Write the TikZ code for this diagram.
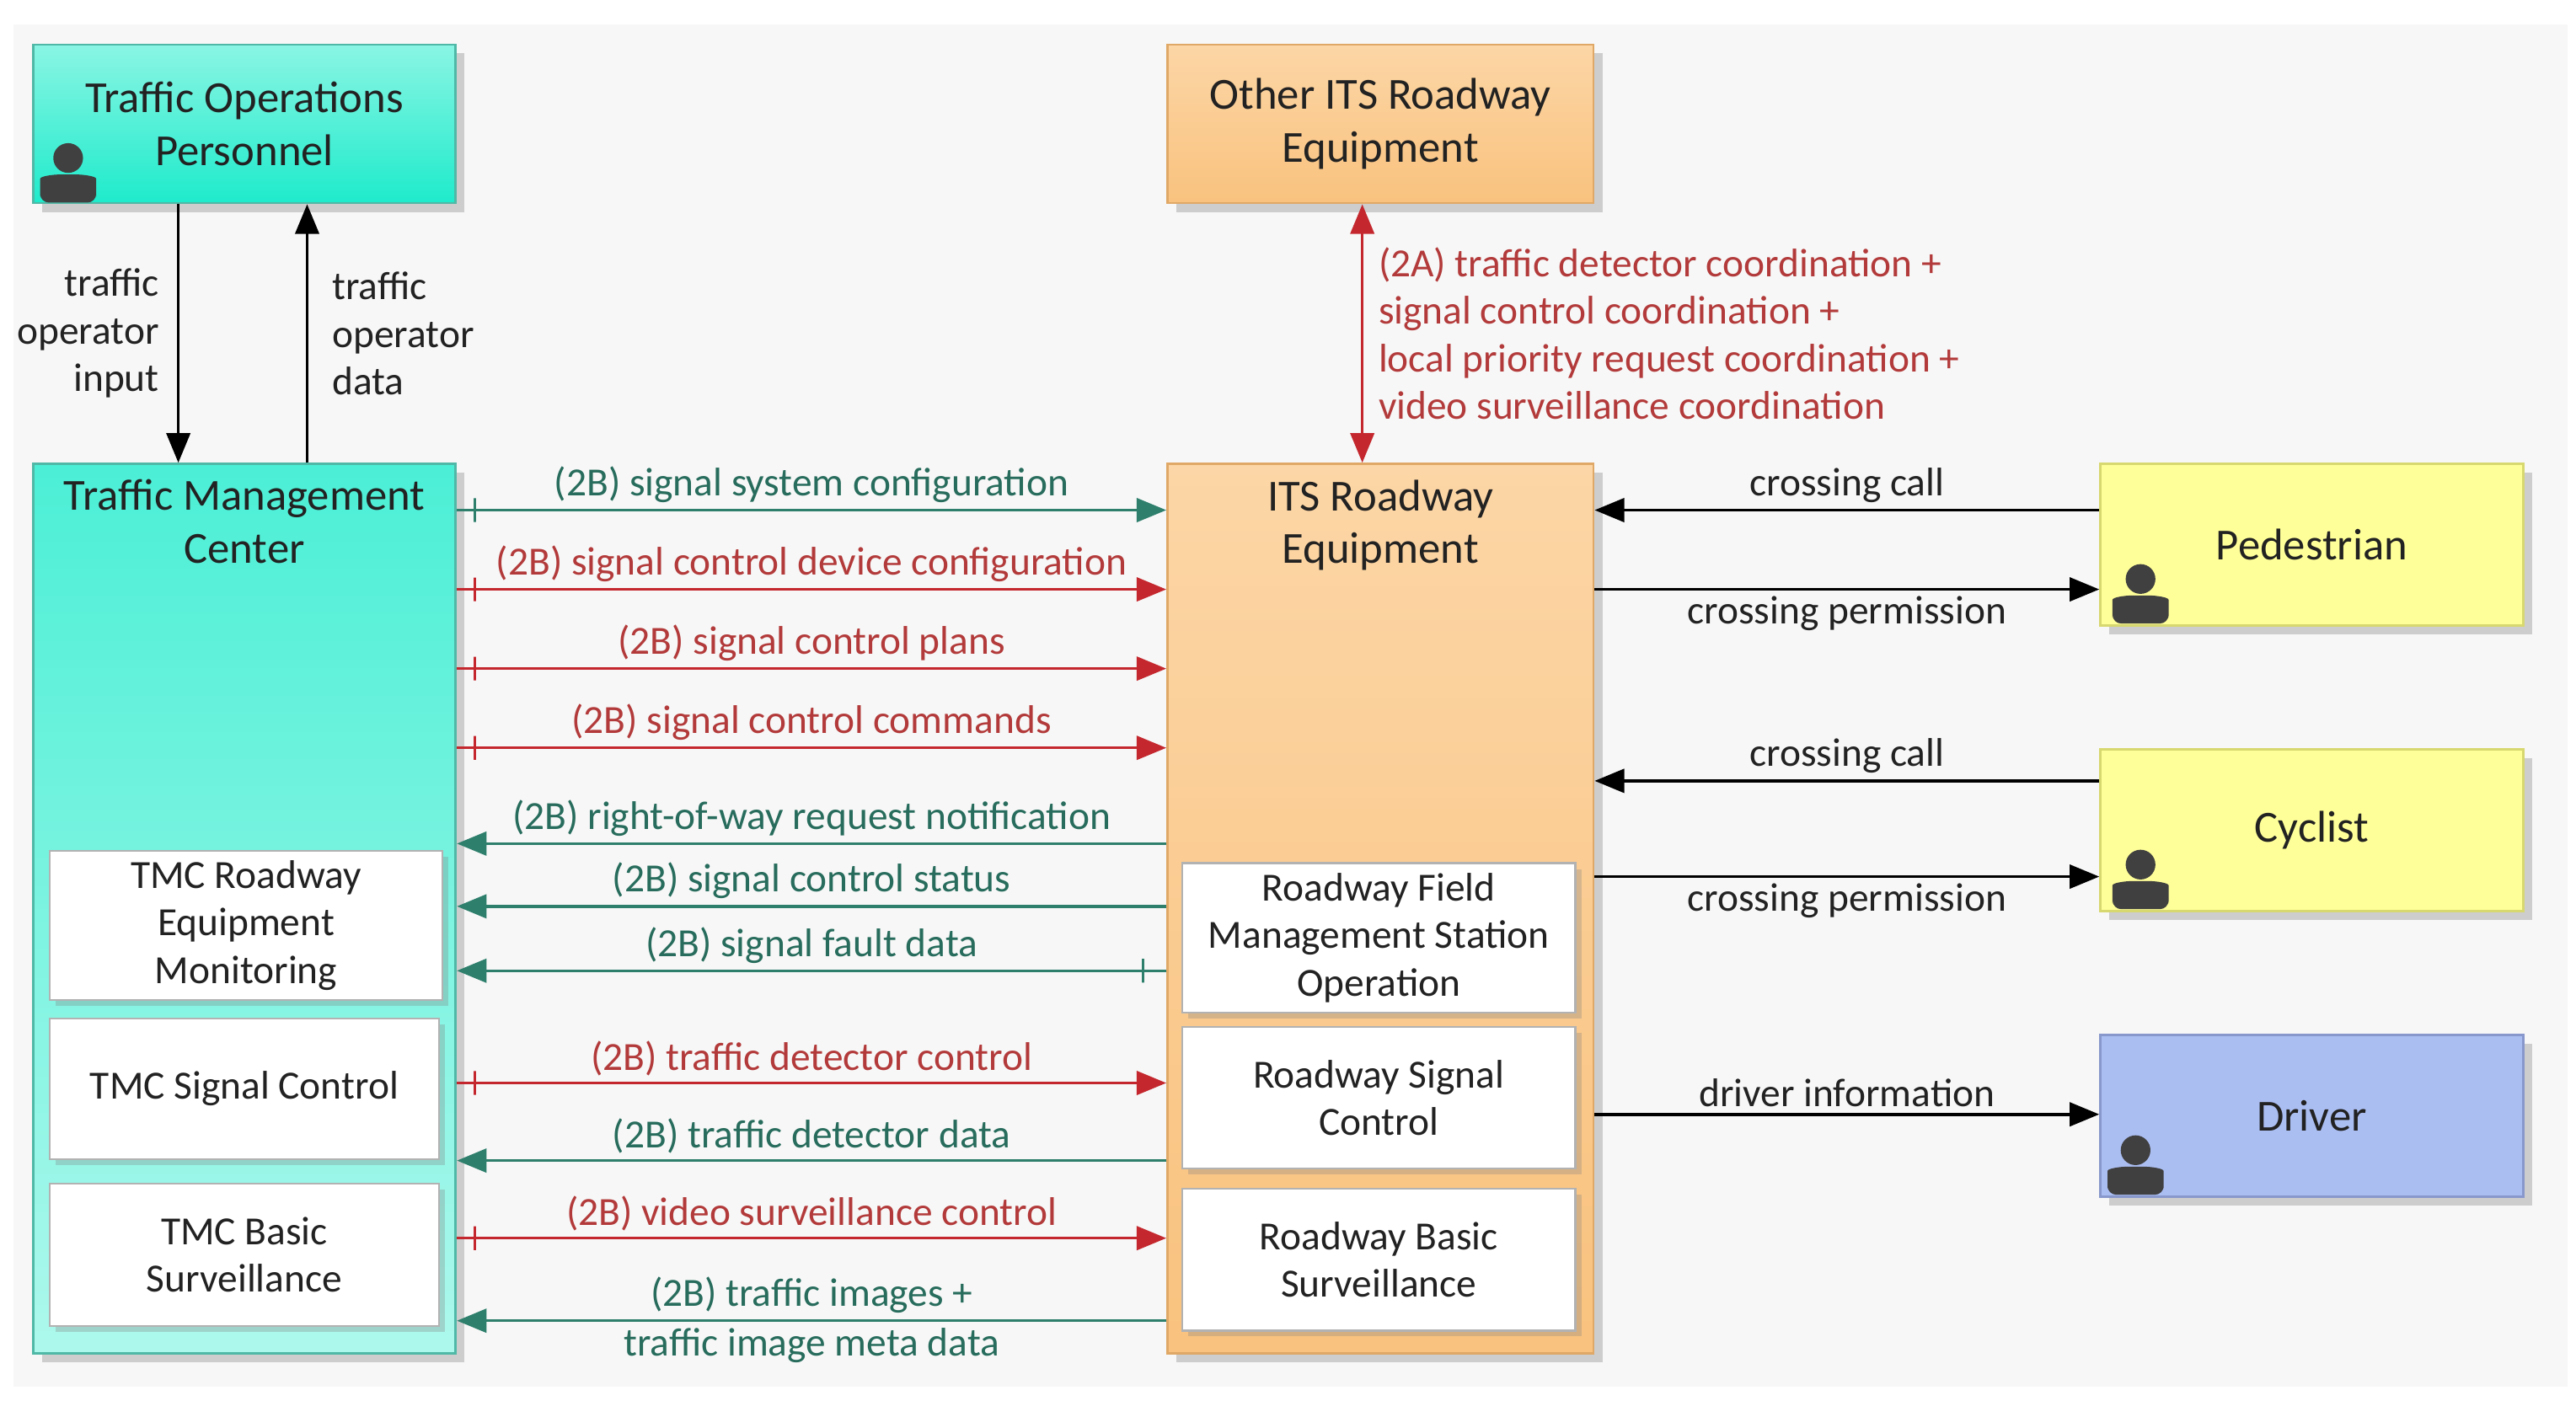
\documentclass[tikz,border=0pt]{standalone}
\usepackage{fontspec}
\setmainfont{Carlito}
\usetikzlibrary{arrows.meta,positioning,shadows}

\definecolor{bgC}{HTML}{F7F7F7}
\definecolor{cyanT}{HTML}{8AF5E4}
\definecolor{cyanB}{HTML}{1EEBCB}
\definecolor{cyanE}{HTML}{4FB8A6}
\definecolor{orT}{HTML}{FCD6A6}
\definecolor{orB}{HTML}{F9C27E}
\definecolor{orE}{HTML}{E0A866}
\definecolor{yelC}{HTML}{FFFF99}
\definecolor{yelE}{HTML}{D8D870}
\definecolor{bluC}{HTML}{ABBEF2}
\definecolor{bluE}{HTML}{8898CC}
\definecolor{tealL}{HTML}{2E7F6C}
\definecolor{redL}{HTML}{C4282E}
\definecolor{redT}{HTML}{B33A3A}
\definecolor{txtC}{HTML}{222222}

\newcommand{\px}{0.0196cm}

\begin{document}
\begin{tikzpicture}[
        x=\px, y=-\px,
        >={Triangle[length=10pt,width=8pt]},
        box/.style={draw=#1, line width=0.8pt, align=center, text=txtC,
          font=\fontsize{15}{17.8}\selectfont,
          drop shadow={shadow xshift=3pt, shadow yshift=-3pt, opacity=0.35}},
        cybox/.style={box=cyanE, top color=cyanT, bottom color=cyanB},
        orbox/.style={box=orE, top color=orT, bottom color=orB},
        sub/.style={draw=gray!60, fill=white, line width=0.6pt, align=center,
          text=txtC, font=\fontsize{13.5}{16.1}\selectfont,
          drop shadow={shadow xshift=2pt, shadow yshift=-2pt, opacity=0.3}},
        lbl/.style={font=\fontsize{13.5}{16.1}\selectfont, inner sep=2pt},
        tflow/.style={draw=tealL, line width=1pt, ->, lbl, text=tealL!85!black},
        rflow/.style={draw=redL, line width=1pt, ->, lbl, text=redT},
        kflow/.style={draw=black, line width=1pt, ->, lbl, text=txtC},
        tick/.style={draw, shape=rectangle, inner sep=0pt, minimum width=0pt,
          minimum height=8pt, line width=0.8pt},
        person/.pic={
          \fill[black!75] (0,-20) circle (9);
          \fill[black!75, rounded corners=3] (-17,7) -- (-17,-2)
            .. controls (-17,-9) and (-9,-10) .. (0,-10)
            .. controls (9,-10) and (17,-9) .. (17,-2) -- (17,7) -- cycle;
        }
        ]
        % background and frame
        \fill[bgC] (8,15) rectangle (1555,840);
        \useasboundingbox (0,0) rectangle (1560,858);

        % main boxes
        \node (top)   [cybox, minimum width=256*\px, minimum height=96*\px]
                at (148,75)  {Traffic Operations\\Personnel};
        \node (tmc)   [cybox, minimum width=256*\px, minimum height=539*\px,
                top color=cyanB!80!white, bottom color=cyanT!70!white]
                at (148,550.5) {};
        \node (other) [orbox, minimum width=258*\px, minimum height=96*\px]
                at (836,75)  {Other ITS Roadway\\Equipment};
        \node (its)   [orbox, minimum width=258*\px, minimum height=539*\px]
                at (836,550.5) {};
        \node (ped)   [box=yelE, fill=yelC, minimum width=256*\px, minimum height=98*\px]
                at (1400,330) {Pedestrian};
        \node (cyc)   [box=yelE, fill=yelC, minimum width=256*\px, minimum height=98*\px]
                at (1400,503) {Cyclist};
        \node (drv)   [box=bluE, fill=bluC, minimum width=256*\px, minimum height=98*\px]
                at (1400,676) {Driver};

        % titles of the big boxes
        \node (tmctitle) [align=center, text=txtC, font=\fontsize{15}{17.8}\selectfont,
                below=4*\px of tmc.north] {Traffic Management\\Center};
        \node (itstitle) [align=center, text=txtC, font=\fontsize{15}{17.8}\selectfont,
                below=4*\px of its.north] {ITS Roadway\\Equipment};

        % sub boxes
        \node (mon) [sub, minimum width=238*\px, minimum height=87*\px] at (149,560.5)
                {TMC Roadway\\Equipment\\Monitoring};
        \node (sc)  [sub, minimum width=236*\px, minimum height=85*\px] at (148,659.5)
                {TMC Signal Control};
        \node (bs)  [sub, minimum width=236*\px, minimum height=86*\px] at (148,760)
                {TMC Basic\\Surveillance};
        \node (fms) [sub, minimum width=238*\px, minimum height=88*\px] at (835,568)
                {Roadway Field\\Management Station\\Operation};
        \node (rsc) [sub, minimum width=238*\px, minimum height=86*\px] at (835,665)
                {Roadway Signal\\Control};
        \node (rbs) [sub, minimum width=238*\px, minimum height=86*\px] at (835,763)
                {Roadway Basic\\Surveillance};

        % person icons
        \pic at ([shift={(22,-8)}]top.south west) {person};
        \pic at ([shift={(25,-9)}]ped.south west) {person};
        \pic at ([shift={(25,-9)}]cyc.south west) {person};
        \pic at ([shift={(22,-9)}]drv.south west) {person};

        % operator flows
        \draw[kflow] (top.south -| 108,0) -- node[left, align=right, xshift=-4pt]
                {traffic\\operator\\input} (tmc.north -| 108,0);
        \draw[kflow] (tmc.north -| 186,0) -- node[right, align=left, xshift=6pt]
                {traffic\\operator\\data} (top.south -| 186,0);

        % coordination with other ITS equipment
        \draw[rflow, <->] (its.north -| 825,0) -- node[right, align=left, xshift=3pt]
                {(2A) traffic detector coordination +\\signal control coordination +\\
                 local priority request coordination +\\video surveillance coordination}
                (other.south -| 825,0);

        % center to field flows
        \draw[tflow] (tmc.east |- 0,309) -- node[pos=0.025, tick]{}
                node[above] {(2B) signal system configuration} (its.west |- 0,309);
        \draw[rflow] (tmc.east |- 0,357) -- node[pos=0.025, tick]{}
                node[above] {(2B) signal control device configuration} (its.west |- 0,357);
        \draw[rflow] (tmc.east |- 0,405) -- node[pos=0.025, tick]{}
                node[above] {(2B) signal control plans} (its.west |- 0,405);
        \draw[rflow] (tmc.east |- 0,453) -- node[pos=0.025, tick]{}
                node[above] {(2B) signal control commands} (its.west |- 0,453);
        \draw[tflow] (its.west |- 0,511) -- node[above]
                {(2B) right-of-way request notification} (tmc.east |- 0,511);
        \draw[tflow] (its.west |- 0,549) -- node[above]
                {(2B) signal control status} (tmc.east |- 0,549);
        \draw[tflow] (its.west |- 0,588) -- node[pos=0.033, tick]{}
                node[above] {(2B) signal fault data} (tmc.east |- 0,588);
        \draw[rflow] (tmc.east |- 0,656) -- node[pos=0.025, tick]{}
                node[above] {(2B) traffic detector control} (its.west |- 0,656);
        \draw[tflow] (its.west |- 0,703) -- node[above]
                {(2B) traffic detector data} (tmc.east |- 0,703);
        \draw[rflow] (tmc.east |- 0,750) -- node[pos=0.025, tick]{}
                node[above] {(2B) video surveillance control} (its.west |- 0,750);
        \draw[tflow] (its.west |- 0,800) -- node[above] {(2B) traffic images +}
                node[below] {traffic image meta data} (tmc.east |- 0,800);

        % field to travelers
        \draw[kflow] (ped.west |- 0,309) -- node[above] {crossing call} (its.east |- 0,309);
        \draw[kflow] (its.east |- 0,357) -- node[below] {crossing permission} (ped.west |- 0,357);
        \draw[kflow] (cyc.west |- 0,473) -- node[above] {crossing call} (its.east |- 0,473);
        \draw[kflow] (its.east |- 0,531) -- node[below] {crossing permission} (cyc.west |- 0,531);
        \draw[kflow] (its.east |- 0,675) -- node[above] {driver information} (drv.west |- 0,675);
      \end{tikzpicture}
\end{document}
